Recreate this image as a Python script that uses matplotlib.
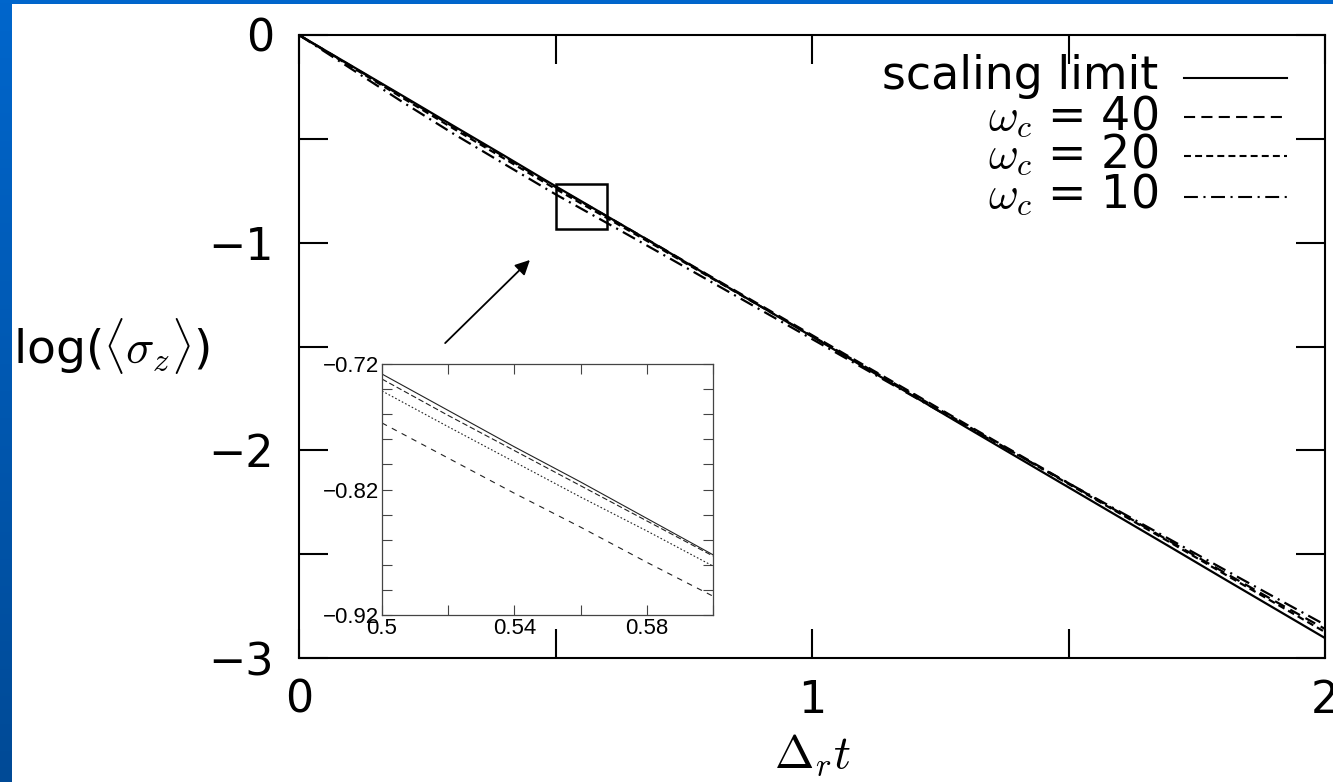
import numpy as np
import matplotlib
matplotlib.use("Agg")
import matplotlib.pyplot as plt
from matplotlib.patches import Rectangle
from matplotlib.lines import Line2D
from matplotlib.colors import LinearSegmentedColormap

plt.rcParams["font.family"] = ["DejaVu Sans"]
plt.rcParams["mathtext.fontset"] = "cm"
plt.rcParams["lines.scale_dashes"] = False

# ---- data -------------------------------------------------------------
t = [0.0, 0.1, 0.2, 0.3, 0.4, 0.5, 0.6, 0.7, 0.8, 0.9, 1.0,
     1.1, 1.2, 1.3, 1.4, 1.5, 1.6, 1.7, 1.8, 1.9, 2.0]
scaling_limit = [0.0, -0.145, -0.290, -0.436, -0.581, -0.728, -0.872, -1.016,
                 -1.162, -1.307, -1.452, -1.597, -1.742, -1.888, -2.033,
                 -2.178, -2.323, -2.468, -2.614, -2.759, -2.904]
wc40 = [0.0, -0.147, -0.294, -0.441, -0.586, -0.732, -0.873, -1.015, -1.159,
        -1.302, -1.445, -1.588, -1.730, -1.874, -2.016, -2.158, -2.300,
        -2.441, -2.583, -2.723, -2.860]
wc20 = [0.0, -0.150, -0.300, -0.449, -0.595, -0.741, -0.881, -1.022, -1.165,
        -1.307, -1.449, -1.592, -1.734, -1.878, -2.020, -2.162, -2.304,
        -2.446, -2.590, -2.732, -2.875]
wc10 = [0.0, -0.160, -0.320, -0.474, -0.621, -0.767, -0.905, -1.044, -1.184,
        -1.324, -1.464, -1.604, -1.744, -1.883, -2.021, -2.158, -2.295,
        -2.432, -2.569, -2.705, -2.840]

# close-up window
t_zoom = [0.50, 0.52, 0.54, 0.56, 0.58, 0.60]
scaling_zoom = [-0.728, -0.757, -0.786, -0.814, -0.843, -0.872]
wc40_zoom = [-0.732, -0.761, -0.789, -0.817, -0.845, -0.873]
wc20_zoom = [-0.7415, -0.770, -0.798, -0.826, -0.853, -0.881]
wc10_zoom = [-0.767, -0.795, -0.823, -0.850, -0.878, -0.905]

labels = ["scaling limit", r"$\omega_c$ = 40", r"$\omega_c$ = 20", r"$\omega_c$ = 10"]

# ---- styles -----------------------------------------------------------
styles = ["-", (0, (8, 4.5)), (0, (5, 3)), (0, (10, 4, 1.5, 4))]

W, H = 1333, 782
fig = plt.figure(figsize=(W / 100, H / 100), dpi=100)

# slide backdrop: blue gradient frame with a white page
bg = fig.add_axes([0, 0, 1, 1], zorder=-10)
grad = np.linspace(1, 0, 256).reshape(-1, 1)
cmap = LinearSegmentedColormap.from_list("slide", ["#004a96", "#0066cc"])
bg.imshow(grad, aspect="auto", extent=[0, 1, 0, 1], cmap=cmap)
bg.add_patch(Rectangle((12 / W, 0), 1, 1 - 4 / H, color="white", lw=0))
bg.set_xlim(0, 1)
bg.set_ylim(0, 1)
bg.axis("off")

# ---- main axes ----------------------------------------------------------
L, R, T, B = 299, 1325, 35, 658
ax = fig.add_axes([L / W, 1 - B / H, (R - L) / W, (B - T) / H])
series = [scaling_limit, wc40, wc20, wc10]
for y, ls in zip(series, styles):
    ax.plot(t, y, color="black", lw=1.6, linestyle=ls)

ax.set_xlim(0, 2)
ax.set_ylim(-3, 0)
ax.set_xticks(np.arange(0, 2.01, 0.5))
ax.set_xticklabels(["0", "", "1", "", "2"])
ax.set_yticks(np.arange(-3, 0.01, 0.5))
ax.set_yticklabels(["\u22123", "", "\u22122", "", "\u22121", "", "0"])
ax.tick_params(direction="in", length=21, width=1.5, labelsize=32,
               top=True, right=True, pad=15)
ax.tick_params(axis="y", pad=18)
for s in ax.spines.values():
    s.set_linewidth(1.5)

ax.set_xlabel(r"$\Delta_r t$", fontsize=34, labelpad=8)
ax.set_ylabel("log(" + r"$\langle\sigma_z\rangle$" + ")", fontsize=34,
              rotation=0, ha="left", va="center")
ax.yaxis.set_label_coords((13 - L) / (R - L), (B - 346) / (B - T))

# legend keys drawn at the upper right
rows_baseline = [89, 130, 168, 208]
rows_line = [78, 117, 156, 197]
for lab, ls, yb, yl in zip(labels, styles, rows_baseline, rows_line):
    ax.text((1158 - L) / (R - L), (B - yb) / (B - T), lab, fontsize=33,
            ha="right", va="baseline", transform=ax.transAxes)
    ax.add_line(Line2D([(1184 - L) / (R - L), (1287 - L) / (R - L)],
                       [(B - yl) / (B - T)] * 2, color="black", lw=1.5,
                       linestyle=ls, transform=ax.transAxes))

# zoom window and pointer
ax.add_patch(Rectangle((0.5, -0.933), 0.1, 0.217, fill=False, lw=1.8,
                       edgecolor="black", zorder=5))
ax.annotate("", xy=(0.454, -1.074), xytext=(0.281, -1.493),
            arrowprops=dict(arrowstyle="-|>", color="black", lw=1.3,
                            mutation_scale=22))

# ---- inset --------------------------------------------------------------
iL, iR, iT, iB = 382, 713, 364, 615
axi = fig.add_axes([iL / W, 1 - iB / H, (iR - iL) / W, (iB - iT) / H])
zseries = [scaling_zoom, wc40_zoom, wc20_zoom, wc10_zoom]
zstyles = ["-", (0, (4, 2)), (0, (1.2, 1.5)), (0, (4, 4))]
for y, ls in zip(zseries, zstyles):
    axi.plot(t_zoom, y, color="#222222", lw=0.8, linestyle=ls)
axi.set_xlim(0.5, 0.6)
axi.set_ylim(-0.92, -0.72)
axi.set_xticks(np.arange(0.5, 0.6001, 0.02))
axi.set_xticklabels(["0.5", "", "0.54", "", "0.58", ""])
axi.set_yticks(np.arange(-0.92, -0.7199, 0.02))
ylab = ["" for _ in range(11)]
ylab[0], ylab[5], ylab[10] = "\u22120.92", "\u22120.82", "\u22120.72"
axi.set_yticklabels(ylab)
axi.tick_params(direction="in", length=7, width=0.8, color="#444444",
                labelsize=16, top=True, right=True, pad=2)
for lab in axi.get_xticklabels() + axi.get_yticklabels():
    lab.set_fontfamily("Liberation Sans")
for s in axi.spines.values():
    s.set_linewidth(0.9)
    s.set_color("#444444")

fig.savefig("out.png", dpi=100)
